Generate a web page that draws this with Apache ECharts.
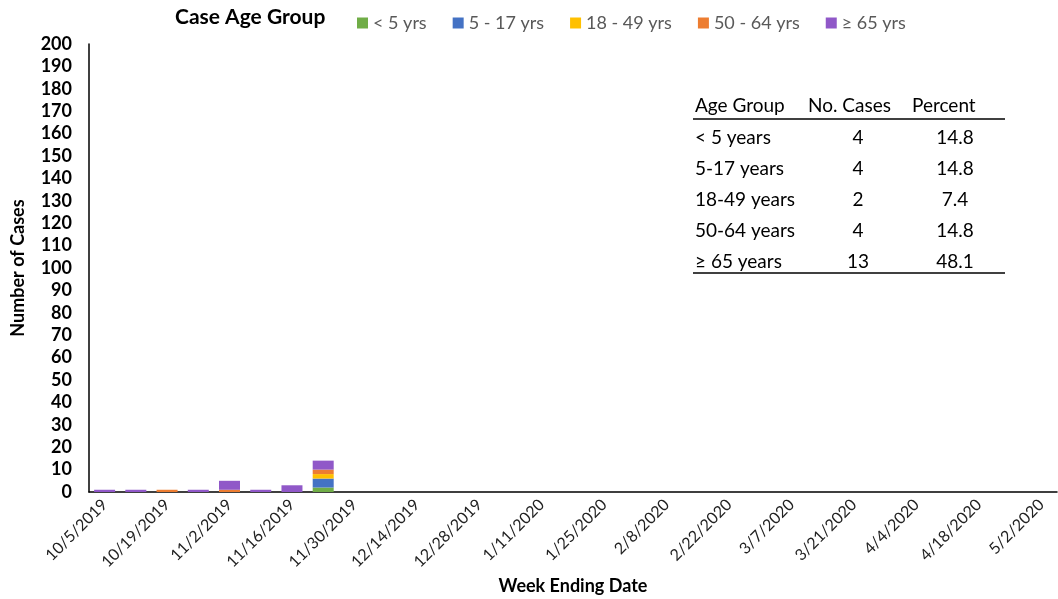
<!DOCTYPE html>
<html>
<head>
<meta charset="utf-8">
<script src="https://cdn.jsdelivr.net/npm/echarts@6/dist/echarts.min.js"></script>
<style>html,body{margin:0;padding:0;background:#fff;}#c{width:1058px;height:599px;}</style>
</head>
<body>
<div id="c"></div>
<script>
const weeks = ['10/5/2019','10/12/2019','10/19/2019','10/26/2019','11/2/2019','11/9/2019','11/16/2019','11/23/2019','11/30/2019','12/7/2019','12/14/2019','12/21/2019','12/28/2019','1/4/2020','1/11/2020','1/18/2020','1/25/2020','2/1/2020','2/8/2020','2/15/2020','2/22/2020','2/29/2020','3/7/2020','3/14/2020','3/21/2020','3/28/2020','4/4/2020','4/11/2020','4/18/2020','4/25/2020','5/2/2020'];
const seriesNames = ['< 5 yrs','5 - 17 yrs','18 - 49 yrs','50 - 64 yrs','\u2265 65 yrs'];
const under5   = [0,0,0,0,0,0,0,2,0,0,0,0,0,0,0,0,0,0,0,0,0,0,0,0,0,0,0,0,0,0,0];
const age5to17 = [0,0,0,0,0,0,0,4,0,0,0,0,0,0,0,0,0,0,0,0,0,0,0,0,0,0,0,0,0,0,0];
const age18to49= [0,0,0,0,0,0,0,2,0,0,0,0,0,0,0,0,0,0,0,0,0,0,0,0,0,0,0,0,0,0,0];
const age50to64= [0,0,1,0,1,0,0,2,0,0,0,0,0,0,0,0,0,0,0,0,0,0,0,0,0,0,0,0,0,0,0];
const age65plus= [1,1,0,1,4,1,3,4,0,0,0,0,0,0,0,0,0,0,0,0,0,0,0,0,0,0,0,0,0,0,0];
const tableHeader = ['Age Group','No. Cases','Percent'];
const tableGroups = ['< 5 years','5-17 years','18-49 years','50-64 years','\u2265 65 years'];
const tableCases  = ['4','4','2','4','13'];
const tablePct    = ['14.8','14.8','7.4','14.8','48.1'];

const colors = ['#70AD47','#4472C4','#FFC000','#ED7D31','#9058C8'];
const FONT = 'Lato, "Open Sans", sans-serif';
const chart = echarts.init(document.getElementById('c'), null, {renderer:'canvas'});

const seriesData = [under5, age5to17, age18to49, age50to64, age65plus];
const series = seriesData.map((d,i)=>({
  name: seriesNames[i], type:'bar', stack:'total', data:d, barWidth:21,
  itemStyle:{color:colors[i]}
}));

const TF = '19px '+FONT;
const g = [];
g.push({type:'text', left:175, top:7, style:{text:'Case Age Group', font:'bold 21px '+FONT, fill:'#000'}});
const rowY = [138,169,200,231,262];
g.push({type:'text', x:695, y:106, style:{text:tableHeader[0], font:TF, fill:'#000', textAlign:'left', textVerticalAlign:'middle'}});
g.push({type:'text', x:808, y:106, style:{text:tableHeader[1], font:TF, fill:'#000', textAlign:'left', textVerticalAlign:'middle'}});
g.push({type:'text', x:912, y:106, style:{text:tableHeader[2], font:TF, fill:'#000', textAlign:'left', textVerticalAlign:'middle'}});
g.push({type:'line', shape:{x1:693,y1:119,x2:1005,y2:119}, style:{stroke:'#000', lineWidth:1.5}});
g.push({type:'line', shape:{x1:693,y1:273,x2:1005,y2:273}, style:{stroke:'#000', lineWidth:1.5}});
tableGroups.forEach((t,i)=>{
  g.push({type:'text', x:695, y:rowY[i], style:{text:t, font:TF, fill:'#000', textAlign:'left', textVerticalAlign:'middle'}});
  g.push({type:'text', x:858, y:rowY[i], style:{text:tableCases[i], font:TF, fill:'#000', textAlign:'center', textVerticalAlign:'middle'}});
  g.push({type:'text', x:955, y:rowY[i], style:{text:tablePct[i], font:TF, fill:'#000', textAlign:'center', textVerticalAlign:'middle'}});
});

chart.setOption({
  animation:false,
  textStyle:{fontFamily:FONT},
  legend:{
    left:352, top:9, itemWidth:11, itemHeight:11, itemGap:26, icon:'rect',
    data:seriesNames,
    textStyle:{fontSize:18, color:'#595959', fontFamily:FONT}
  },
  grid:{left:89, right:1, top:44, bottom:107, containLabel:false, outerBoundsMode:'none'},
  xAxis:{
    type:'category', data:weeks, boundaryGap:true,
    name:'Week Ending Date', nameLocation:'middle', nameGap:84,
    nameTextStyle:{fontSize:18, fontWeight:'bold', color:'#000', fontFamily:FONT},
    axisLine:{lineStyle:{color:'#000', width:1.5}},
    axisTick:{show:false},
    axisLabel:{interval:1, rotate:45, fontSize:16, color:'#222', fontFamily:FONT, margin:10}
  },
  yAxis:{
    type:'value', min:0, max:200, interval:10,
    name:'Number of Cases', nameLocation:'middle', nameGap:62, nameRotate:90,
    nameTextStyle:{fontSize:18, fontWeight:'bold', color:'#000', fontFamily:FONT},
    axisLine:{show:true, lineStyle:{color:'#000', width:1.5}},
    axisTick:{show:false},
    splitLine:{show:false},
    axisLabel:{fontSize:18, fontWeight:'bold', color:'#000', fontFamily:FONT, margin:17}
  },
  series:series,
  graphic:g
});
</script>
</body>
</html>
